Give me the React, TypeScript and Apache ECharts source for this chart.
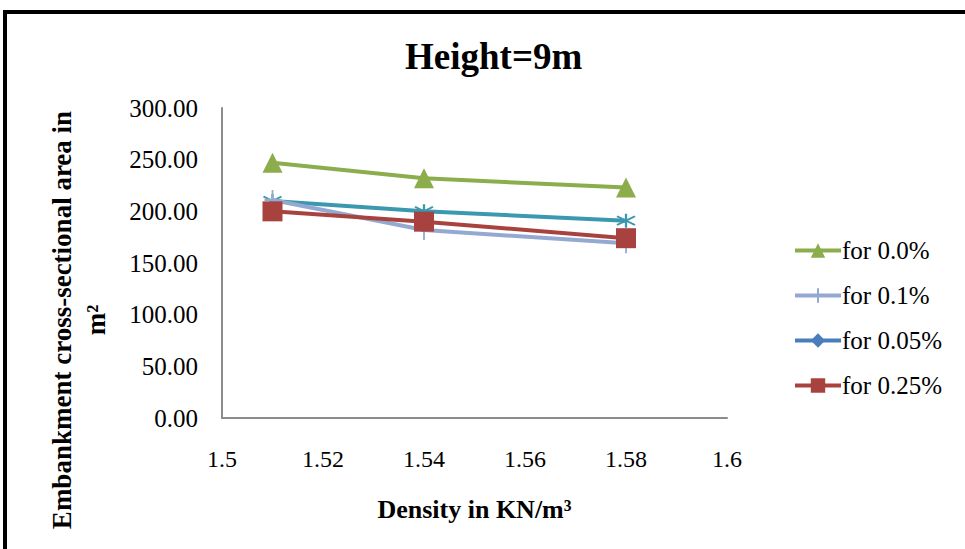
import React, { useEffect, useRef } from "react";
import * as echarts from "echarts";

const densities = [1.51, 1.54, 1.58];
const area00 = [247, 232, 223];
const area01 = [211, 182, 169];
const area005: number[] = [];
const area025 = [200, 190, 174];
const areaExtra = [210, 200, 191];

const xTicks = [1.5, 1.52, 1.54, 1.56, 1.58, 1.6];
const yMax = 300;

const FONT = "'Liberation Serif', 'Times New Roman', serif";

const asterisk = "path://M5,0 L5,10 M0.8,1.8 L9.2,8.2 M9.2,1.8 L0.8,8.2";
const plus = "path://M5,0 L5,10 M0,5 L10,5";

export default function App() {
  const ref = useRef<HTMLDivElement>(null);
  useEffect(() => {
    document.body.style.margin = "0";
    const chart = echarts.init(ref.current!, null, { renderer: "svg" });
    const pair = (ys: number[]) => ys.map((y, i) => [densities[i], y]);
    chart.setOption({
      animation: false,
      backgroundColor: "#ffffff",
      title: {
        text: "Height=9m",
        left: 400,
        top: 33,
        textStyle: { fontFamily: FONT, fontSize: 37, fontWeight: "bold", color: "#000" },
      },
      grid: { left: 222, right: 238, top: 108, bottom: 131 },
      legend: {
        orient: "vertical",
        left: 788,
        top: 233,
        itemGap: 20,
        itemWidth: 46,
        itemHeight: 18,
        data: ["for 0.0%", "for 0.1%", "for 0.05%", "for 0.25%"],
        lineStyle: { width: 4 },
        textStyle: { fontFamily: FONT, fontSize: 25, color: "#000", padding: [0, 0, 0, -4] },
      },
      xAxis: {
        type: "value",
        min: 1.5,
        max: 1.6,
        interval: 0.02,
        axisLine: { show: true, onZero: false, lineStyle: { color: "#8c8c8c", width: 2 } },
        axisTick: { show: false },
        splitLine: { show: false },
        axisLabel: {
          margin: 29,
          fontFamily: FONT,
          fontSize: 24,
          color: "#000",
          formatter: (v: number) => {
            const m = xTicks.find((t) => Math.abs(t - v) < 1e-6);
            return String(m !== undefined ? m : +v.toFixed(2));
          },
        },
        name: "Density in KN/m³",
        nameLocation: "middle",
        nameGap: 78,
        nameTextStyle: { fontFamily: FONT, fontSize: 26, fontWeight: "bold", color: "#000" },
      },
      yAxis: {
        type: "value",
        min: 0,
        max: yMax,
        interval: 50,
        axisLine: { show: true, lineStyle: { color: "#8c8c8c", width: 2 } },
        axisTick: { show: false },
        splitLine: { show: false },
        axisLabel: {
          margin: 24,
          fontFamily: FONT,
          fontSize: 25,
          color: "#000",
          formatter: (v: number) => v.toFixed(2),
        },
      },
      graphic: [
        {
          type: "rect",
          shape: { x: 5, y: 12, width: 1000, height: 600 },
          style: { fill: "none", stroke: "#000", lineWidth: 4 },
          silent: true,
        },
        {
          type: "text",
          x: 62,
          y: 320,
          rotation: Math.PI / 2,
          style: {
            text: "Embankment cross-sectional area in",
            fontFamily: FONT,
            fontSize: 27,
            fontWeight: "bold",
            fill: "#000",
            align: "center",
            verticalAlign: "middle",
          },
        },
        {
          type: "text",
          x: 96,
          y: 320,
          rotation: Math.PI / 2,
          style: {
            text: "m²",
            fontFamily: FONT,
            fontSize: 27,
            fontWeight: "bold",
            fill: "#000",
            align: "center",
            verticalAlign: "middle",
          },
        },
      ],
      series: [
        {
          name: "for 0.0%",
          type: "line",
          data: pair(area00),
          symbol: "triangle",
          symbolSize: [20, 20],
          lineStyle: { color: "#8BAD4B", width: 4 },
          itemStyle: { color: "#8BAD4B" },
          z: 2,
        },
        {
          name: "Series5",
          type: "line",
          data: pair(areaExtra),
          symbol: asterisk,
          symbolSize: [18, 14],
          lineStyle: { color: "#3B98AF", width: 4 },
          itemStyle: { color: "rgba(0,0,0,0)", borderColor: "#3B98AF", borderWidth: 2 },
          z: 2,
        },
        {
          name: "for 0.1%",
          type: "line",
          data: pair(area01),
          symbol: plus,
          symbolSize: [16, 20],
          lineStyle: { color: "#94A9D2", width: 4 },
          itemStyle: { color: "rgba(0,0,0,0)", borderColor: "#94A9D2", borderWidth: 2 },
          z: 3,
        },
        {
          name: "for 0.05%",
          type: "line",
          data: pair(area005),
          symbol: "diamond",
          symbolSize: 16,
          lineStyle: { color: "#4A7EBB", width: 4 },
          itemStyle: { color: "#4A7EBB" },
          z: 3,
        },
        {
          name: "for 0.25%",
          type: "line",
          data: pair(area025),
          symbol: "rect",
          symbolSize: 20,
          lineStyle: { color: "#A8423F", width: 4 },
          itemStyle: { color: "#A8423F" },
          z: 4,
        },
      ],
    });
    return () => chart.dispose();
  }, []);
  return <div ref={ref} style={{ width: 965, height: 549 }} />;
}
